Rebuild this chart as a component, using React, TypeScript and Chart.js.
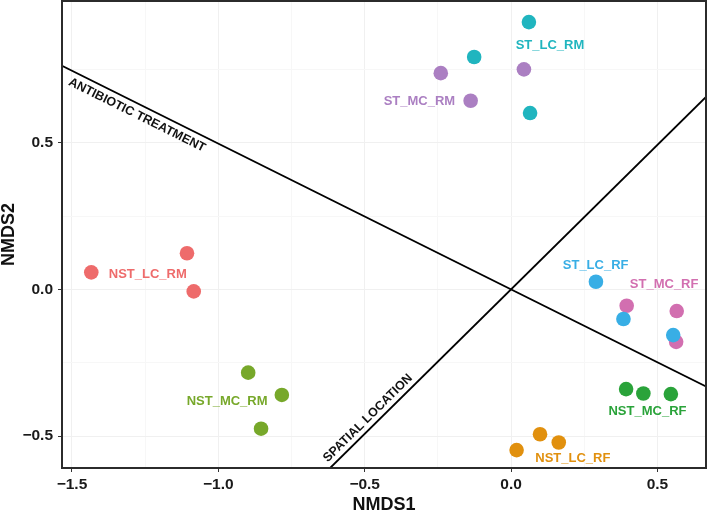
import React, { useEffect, useRef } from "react";
import { Chart, registerables } from "chart.js";

Chart.register(...registerables);

// ---- data ----
const groupNames = ["ST_LC_RF", "ST_MC_RF", "NST_LC_RM", "NST_MC_RM", "ST_LC_RM", "ST_MC_RM", "NST_MC_RF", "NST_LC_RF"];
const groupColors = ["#38AEE5", "#D26FB0", "#EE6B6B", "#77A82A", "#20B5BF", "#AB7FC2", "#2AA33A", "#E1900E"];

const stLcRfX = [0.290, 0.384, 0.554];
const stLcRfY = [0.026, -0.101, -0.156];
const stMcRfX = [0.395, 0.566, 0.564];
const stMcRfY = [-0.056, -0.074, -0.179];
const nstLcRmX = [-1.434, -1.107, -1.084];
const nstLcRmY = [0.058, 0.123, -0.007];
const nstMcRmX = [-0.898, -0.783, -0.854];
const nstMcRmY = [-0.284, -0.360, -0.475];
const stLcRmX = [0.061, -0.126, 0.065];
const stLcRmY = [0.911, 0.792, 0.601];
const stMcRmX = [-0.240, 0.044, -0.138];
const stMcRmY = [0.737, 0.750, 0.643];
const nstMcRfX = [0.393, 0.452, 0.546];
const nstMcRfY = [-0.340, -0.355, -0.357];
const nstLcRfX = [0.019, 0.099, 0.163];
const nstLcRfY = [-0.548, -0.494, -0.522];

const groupX = [stLcRfX, stMcRfX, nstLcRmX, nstMcRmX, stLcRmX, stMcRmX, nstMcRfX, nstLcRfX];
const groupY = [stLcRfY, stMcRfY, nstLcRmY, nstMcRmY, stLcRmY, stMcRmY, nstMcRfY, nstLcRfY];

// group label positions (data coords)
const labelX = [0.289, 0.523, -1.241, -0.970, 0.133, -0.313, 0.466, 0.211];
const labelY = [0.083, 0.017, 0.052, -0.383, 0.831, 0.640, -0.417, -0.576];

// reference lines
const lineNames = ["ANTIBIOTIC TREATMENT", "SPATIAL LOCATION"];
const antibioticX = [-1.534, 0.666];
const antibioticY = [0.762, -0.331];
const spatialX = [-0.618, 0.666];
const spatialY = [-0.609, 0.656];
const lineLabelX = [-1.278, -0.489];
const lineLabelY = [0.594, -0.439];

// axes
const xMin = -1.534;
const xMax = 0.666;
const yMin = -0.609;
const yMax = 0.983;
const xMajorTicks = [-1.5, -1.0, -0.5, 0.0, 0.5];
const xMinorTicks = [-1.25, -0.75, -0.25, 0.25];
const yMajorTicks = [-0.5, 0.0, 0.5];
const yMinorTicks = [-0.25, 0.25, 0.75];
const xTitle = "NMDS1";
const yTitle = "NMDS2";

const FONT = '"Liberation Sans", Arial, Helvetica, sans-serif';

function fmt(v: number): string {
  const s = Math.abs(v).toFixed(1);
  return v < 0 ? "\u2212" + s : s;
}

function isMajor(v: number, majors: number[]) {
  return majors.some((m) => Math.abs(m - v) < 1e-9);
}

function zeroPad(s: any) {
  s.paddingTop = 0;
  s.paddingBottom = 0;
  s.paddingLeft = 0;
  s.paddingRight = 0;
}

const annotPlugin = {
  id: "annot",
  afterDatasetsDraw(chart: any) {
    const { ctx, chartArea, scales } = chart;
    const x = scales.x;
    const y = scales.y;
    ctx.save();
    // group labels
    ctx.font = `bold 13px ${FONT}`;
    ctx.textAlign = "center";
    ctx.textBaseline = "middle";
    groupNames.forEach((name, i) => {
      ctx.fillStyle = groupColors[i];
      ctx.fillText(name, x.getPixelForValue(labelX[i]), y.getPixelForValue(labelY[i]));
    });
    // line labels
    const lines = [
      [antibioticX, antibioticY],
      [spatialX, spatialY],
    ];
    ctx.font = `bold 12.5px ${FONT}`;
    ctx.fillStyle = "#111";
    lineNames.forEach((name, i) => {
      const [lx, ly] = lines[i];
      const ang = Math.atan2(
        y.getPixelForValue(ly[1]) - y.getPixelForValue(ly[0]),
        x.getPixelForValue(lx[1]) - x.getPixelForValue(lx[0])
      );
      ctx.save();
      ctx.translate(x.getPixelForValue(lineLabelX[i]), y.getPixelForValue(lineLabelY[i]));
      ctx.rotate(ang);
      ctx.fillText(name, 0, 0);
      ctx.restore();
    });
    // panel border
    ctx.strokeStyle = "#2b2b2b";
    ctx.lineWidth = 2;
    ctx.strokeRect(chartArea.left, chartArea.top, chartArea.right - chartArea.left, chartArea.bottom - chartArea.top);
    ctx.restore();
  },
};

export default function App() {
  const ref = useRef<HTMLCanvasElement>(null);
  useEffect(() => {
    if (!ref.current) return;
    const pointSets = groupNames.map((name, i) => ({
      label: name,
      data: groupX[i].map((v, j) => ({ x: v, y: groupY[i][j] })),
      backgroundColor: groupColors[i],
      borderWidth: 0,
      pointRadius: 7.3,
      pointHoverRadius: 7.3,
    }));
    const lineSets = [
      [antibioticX, antibioticY],
      [spatialX, spatialY],
    ].map(([lx, ly], i) => ({
      label: lineNames[i],
      data: lx.map((v, j) => ({ x: v, y: ly[j] })),
      showLine: true,
      borderColor: "#000",
      borderWidth: 1.8,
      pointRadius: 0,
      fill: false,
    }));
    const chart = new Chart(ref.current, {
      type: "scatter",
      data: { datasets: [...pointSets, ...lineSets] as any },
      options: {
        animation: false,
        responsive: false,
        events: [],
        layout: { autoPadding: false, padding: { top: 1, right: 3, left: 0, bottom: 0 } },
        plugins: { legend: { display: false }, tooltip: { enabled: false } },
        scales: {
          x: {
            type: "linear",
            min: xMin,
            max: xMax,
            afterFit: (s: any) => {
              s.height = 46;
              zeroPad(s);
            },
            afterBuildTicks: (s: any) => {
              s.ticks = [...xMajorTicks, ...xMinorTicks].sort((a, b) => a - b).map((v) => ({ value: v }));
            },
            border: { display: false },
            grid: {
              color: (c: any) => (isMajor(c.tick?.value, xMajorTicks) ? "#F0F0F0" : "#F7F7F7"),
              tickColor: (c: any) => (isMajor(c.tick?.value, xMajorTicks) ? "#333" : "rgba(0,0,0,0)"),
              tickLength: 4,
              lineWidth: 1,
            },
            ticks: {
              padding: 3,
              color: "#1a1a1a",
              font: { family: FONT, size: 15.5, weight: "bold" },
              maxRotation: 0,
              autoSkip: false,
              callback: (v: any) => (isMajor(Number(v), xMajorTicks) ? fmt(Number(v)) : ""),
            },
            title: {
              display: true,
              text: xTitle,
              color: "#111",
              font: { family: FONT, size: 18, weight: "bold", lineHeight: 1 },
              padding: 0,
            },
          },
          y: {
            type: "linear",
            min: yMin,
            max: yMax,
            afterFit: (s: any) => {
              s.width = 62;
              zeroPad(s);
            },
            afterBuildTicks: (s: any) => {
              s.ticks = [...yMajorTicks, ...yMinorTicks].sort((a, b) => a - b).map((v) => ({ value: v }));
            },
            border: { display: false },
            grid: {
              color: (c: any) => (isMajor(c.tick?.value, yMajorTicks) ? "#F0F0F0" : "#F7F7F7"),
              tickColor: (c: any) => (isMajor(c.tick?.value, yMajorTicks) ? "#333" : "rgba(0,0,0,0)"),
              tickLength: 4,
              lineWidth: 1,
            },
            ticks: {
              padding: 5,
              color: "#1a1a1a",
              font: { family: FONT, size: 15.5, weight: "bold" },
              autoSkip: false,
              callback: (v: any) => (isMajor(Number(v), yMajorTicks) ? fmt(Number(v)) : ""),
            },
            title: {
              display: true,
              text: yTitle,
              color: "#111",
              font: { family: FONT, size: 18, weight: "bold", lineHeight: 1 },
              padding: 0,
            },
          },
        },
      },
      plugins: [annotPlugin],
    });
    return () => chart.destroy();
  }, []);
  return (
    <div style={{ position: "absolute", left: 0, top: 0, width: 709, height: 514, background: "#fff" }}>
      <canvas ref={ref} width={709} height={514} style={{ width: 709, height: 514 }} />
    </div>
  );
}
